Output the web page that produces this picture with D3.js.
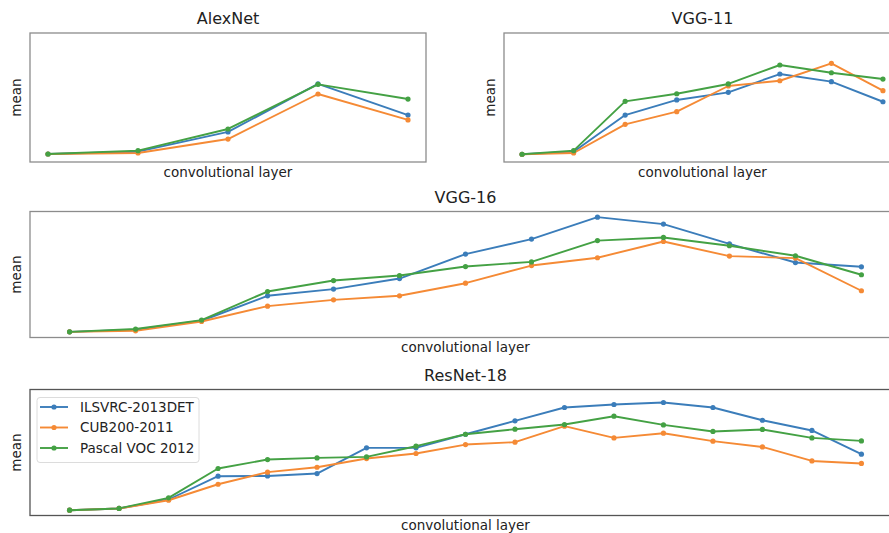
<!DOCTYPE html>
<html>
<head>
<meta charset="utf-8">
<script src="https://cdn.jsdelivr.net/npm/d3@7"></script>
<style>
  html, body { margin: 0; padding: 0; background: #fff; }
  svg { display: block; }
  text { font-family: "DejaVu Sans", sans-serif; fill: #222; }
</style>
</head>
<body>
<svg id="chart" width="889" height="533"></svg>
<script>
// Mean activation per convolutional layer (normalised units), one array per network and dataset
const seriesNames = ["ILSVRC-2013DET", "CUB200-2011", "Pascal VOC 2012"];
const seriesColors = ["#3b7dba", "#f58a35", "#44a144"];

const alexnetIlsvrc = [0.062, 0.080, 0.233, 0.605, 0.364];
const alexnetCub    = [0.062, 0.070, 0.178, 0.527, 0.326];
const alexnetVoc    = [0.062, 0.088, 0.256, 0.602, 0.488];

const vgg11Ilsvrc = [0.060, 0.080, 0.364, 0.481, 0.540, 0.682, 0.623, 0.467];
const vgg11Cub    = [0.060, 0.070, 0.292, 0.390, 0.589, 0.630, 0.765, 0.553];
const vgg11Voc    = [0.060, 0.088, 0.470, 0.529, 0.605, 0.752, 0.692, 0.643];

const vgg16Ilsvrc = [0.045, 0.061, 0.133, 0.331, 0.384, 0.468, 0.662, 0.781, 0.955, 0.900, 0.743, 0.595, 0.561];
const vgg16Cub    = [0.045, 0.053, 0.127, 0.249, 0.299, 0.331, 0.431, 0.571, 0.633, 0.762, 0.646, 0.630, 0.371];
const vgg16Voc    = [0.045, 0.067, 0.138, 0.365, 0.452, 0.492, 0.563, 0.600, 0.769, 0.794, 0.728, 0.649, 0.498];

const resnet18Ilsvrc = [0.042, 0.056, 0.127, 0.312, 0.314, 0.333, 0.537, 0.537, 0.645, 0.751, 0.857, 0.881, 0.897, 0.857, 0.756, 0.675, 0.487];
const resnet18Cub    = [0.042, 0.056, 0.121, 0.248, 0.344, 0.383, 0.452, 0.492, 0.563, 0.582, 0.709, 0.616, 0.653, 0.590, 0.544, 0.433, 0.413];
const resnet18Voc    = [0.042, 0.056, 0.140, 0.373, 0.444, 0.457, 0.465, 0.550, 0.645, 0.685, 0.722, 0.788, 0.719, 0.667, 0.683, 0.616, 0.592];

const svg = d3.select("#chart");

// Panel layout: frame box in pixels, title and series
const panels = [
  { title: "AlexNet",   x0: 30,  x1: 426, y0: 33,    y1: 162,   frame: "#8c8c8c",
    series: [alexnetIlsvrc, alexnetCub, alexnetVoc], legend: false },
  { title: "VGG-11",    x0: 504, x1: 901, y0: 33,    y1: 162,   frame: "#8c8c8c",
    series: [vgg11Ilsvrc, vgg11Cub, vgg11Voc], legend: false },
  { title: "VGG-16",    x0: 30,  x1: 901, y0: 211.5, y1: 337.5, frame: "#8c8c8c",
    series: [vgg16Ilsvrc, vgg16Cub, vgg16Voc], legend: false },
  { title: "ResNet-18", x0: 30,  x1: 901, y0: 389.5, y1: 515.5, frame: "#555",
    series: [resnet18Ilsvrc, resnet18Cub, resnet18Voc], legend: true }
];

panels.forEach(p => {
  const n = p.series[0].length;
  const pad = 0.05 * (n - 1);
  const x = d3.scaleLinear().domain([1 - pad, n + pad]).range([p.x0, p.x1]);
  const y = d3.scaleLinear().domain([0, 1]).range([p.y1, p.y0]);
  const g = svg.append("g");

  // Title
  g.append("text")
    .attr("x", (p.x0 + p.x1) / 2).attr("y", p.y0 - 9)
    .attr("text-anchor", "middle")
    .style("font-size", "16px")
    .text(p.title);

  // Axis labels
  g.append("text")
    .attr("x", (p.x0 + p.x1) / 2).attr("y", p.y1 + 14.5)
    .attr("text-anchor", "middle")
    .style("font-size", "13.5px")
    .text("convolutional layer");
  g.append("text")
    .attr("transform", `translate(${p.x0 - 9.5},${(p.y0 + p.y1) / 2}) rotate(-90)`)
    .attr("text-anchor", "middle")
    .style("font-size", "13.5px")
    .text("mean");

  // Series lines with point markers
  const line = d3.line().x((d, i) => x(i + 1)).y(d => y(d));
  p.series.forEach((vals, si) => {
    g.append("path")
      .datum(vals)
      .attr("d", line)
      .attr("fill", "none")
      .attr("stroke", seriesColors[si])
      .attr("stroke-width", 1.9)
      .attr("stroke-linejoin", "round");
    g.selectAll(null)
      .data(vals)
      .enter().append("circle")
      .attr("cx", (d, i) => x(i + 1))
      .attr("cy", d => y(d))
      .attr("r", 2.6)
      .attr("fill", seriesColors[si]);
  });

  // Axes frame
  g.append("rect")
    .attr("x", p.x0).attr("y", p.y0)
    .attr("width", p.x1 - p.x0).attr("height", p.y1 - p.y0)
    .attr("fill", "none")
    .attr("stroke", p.frame)
    .attr("stroke-width", 1.3);

  if (p.legend) {
    const lg = g.append("g").attr("transform", `translate(${p.x0 + 7},${p.y0 + 8})`);
    lg.append("rect")
      .attr("x", 0).attr("y", 0).attr("width", 162).attr("height", 65)
      .attr("rx", 3)
      .attr("fill", "rgba(255,255,255,0.85)")
      .attr("stroke", "#dcdcdc");
    seriesNames.forEach((name, i) => {
      const cy = 9.5 + i * 20.5;
      lg.append("line")
        .attr("x1", 3).attr("x2", 31).attr("y1", cy).attr("y2", cy)
        .attr("stroke", seriesColors[i]).attr("stroke-width", 1.9);
      lg.append("circle")
        .attr("cx", 17).attr("cy", cy).attr("r", 2.6)
        .attr("fill", seriesColors[i]);
      lg.append("text")
        .attr("x", 43).attr("y", cy + 4.8)
        .style("font-size", "13.5px")
        .text(name);
    });
  }
});
</script>
</body>
</html>
